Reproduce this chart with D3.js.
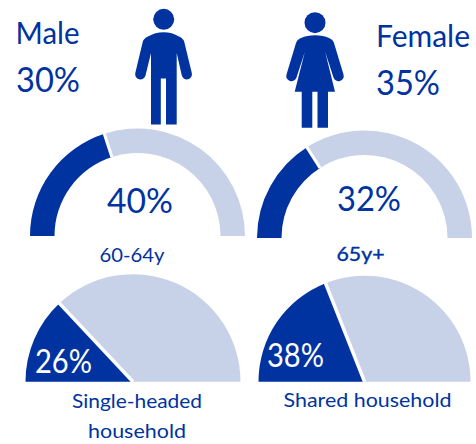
<!DOCTYPE html>
<html><head><meta charset="utf-8">
<script src="https://cdn.jsdelivr.net/npm/d3@7"></script>
<style>html,body{margin:0;padding:0;background:#fff}svg{display:block}text{font-family:Lato,"Open Sans",sans-serif;fill:#0033a0}</style>
</head><body><svg id="c" width="476" height="444"></svg>
<script>
const groupLabels = ["Male", "Female"];
const groupValues = [30, 35];
const gaugeLabels = ["60-64y", "65y+"];
const gaugeValues = [40, 32];
const householdLabels = [["Single-headed", "household"], ["Shared household"]];
const householdValues = [26, 38];
const DARK = "#0033a0", LIGHT = "#c7d1e8";

const svg = d3.select("#c");
const pie = d3.pie().sort(null).startAngle(-Math.PI/2).endAngle(Math.PI/2);
const half = v => pie([v, 100 - v]);

function semi(cx, cy, outer, inner, value, lineGap) {
  const g = svg.append("g").attr("transform", `translate(${cx},${cy})`);
  const arc = d3.arc().innerRadius(inner).outerRadius(outer);
  const arcs = half(value);
  g.selectAll("path").data(arcs).join("path")
    .attr("d", arc).attr("fill", (d,i) => i ? LIGHT : DARK);
  const a = arcs[0].endAngle;
  g.append("line")
    .attr("x1", Math.sin(a)*inner).attr("y1", -Math.cos(a)*inner)
    .attr("x2", Math.sin(a)*(outer+1)).attr("y2", -Math.cos(a)*(outer+1))
    .attr("stroke", "#fff").attr("stroke-width", lineGap);
}
semi(137.5, 236, 107.5, 83, gaugeValues[0], 3);
semi(364.5, 238, 107.5, 83, gaugeValues[1], 3);
semi(133, 381.7, 107.5, 0, householdValues[0], 3.5);
semi(364.5, 381.7, 106, 0, householdValues[1], 3.5);

function text(s, x, y, size, anchor, fill, len, extra) {
  const t = svg.append("text").text(s).attr("x", x).attr("y", y)
    .attr("font-size", size).attr("text-anchor", anchor||"start").attr("font-weight", 400);
  if (fill) t.style("fill", fill);
  if (len) t.attr("textLength", len).attr("lengthAdjust", "spacingAndGlyphs");
  if (extra) t.attr("stroke", DARK).attr("stroke-width", extra);
  return t;
}
text(groupLabels[0], 15.5, 43.7, 30, "start", null, 64);
text(groupValues[0] + "%", 16, 92, 34, "start", null, 64);
text(groupLabels[1], 376, 46.5, 30, "start", null, 94);
text(groupValues[1] + "%", 376, 95, 34, "start", null, 64);
text(gaugeValues[0] + "%", 107, 213, 34, "start", null, 66);
text(gaugeValues[1] + "%", 337, 211, 34, "start", null, 64);
text(gaugeLabels[0], 99.5, 262, 19, "start", null, 65);
text(gaugeLabels[1], 336.5, 261, 19, "start", null, 48, 0.4);
text(householdValues[0] + "%", 35, 373, 32, "start", "#fff", 57);
text(householdValues[1] + "%", 267, 367, 32, "start", "#fff", 57);
text(householdLabels[0][0], 72, 408, 20, "start", null, 130);
text(householdLabels[0][1], 88, 438, 20, "start", null, 98);
text(householdLabels[1][0], 283.5, 407, 20, "start", null, 168);

// pictograms
svg.append("circle").attr("cx",163.7).attr("cy",19.3).attr("r",10.5).attr("fill",DARK);
svg.append("path").attr("fill",DARK).attr("d",
 "M151 124.5V53L145.5 75.5A5 5 0 0 1 135.3 73L142.7 42Q143.5 38.5 148 36.5Q155 32.2 163.7 32.2Q172 32.2 179 36.5Q183.5 38.5 184.3 42L191.8 73A5 5 0 0 1 181.8 75.5L176.7 53V124.5H166V78.5H160.8V124.5Z");
svg.append("circle").attr("cx",315).attr("cy",22.7).attr("r",10.5).attr("fill",DARK);
svg.append("path").attr("fill",DARK).attr("d",
 "M301.7 127.7V91.7H294.7L304.8 52L296.5 77.5A5 5 0 0 1 286.5 74.5L296 43Q297 39.5 301 38Q307 35.2 315 35.2Q323 35.2 329 38Q333 39.5 334 43L343.5 74.5A5 5 0 0 1 333.5 77.5L325.2 52L335 91.7H328V127.7H317.5V91.7H312.3V127.7Z");
</script></body></html>
